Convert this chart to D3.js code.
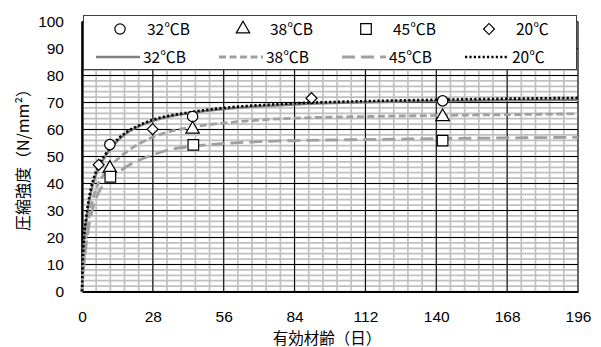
<!DOCTYPE html>
<html>
<head>
<meta charset="utf-8">
<script src="https://cdn.jsdelivr.net/npm/d3@7"></script>
<style>
  html, body { margin: 0; padding: 0; background: #fff; }
  svg { display: block; }
  text { font-family: "Liberation Sans", Arial, "Noto Sans CJK JP", sans-serif; fill: #000; }
  .jp { font-family: "Noto Sans CJK JP", sans-serif; }
</style>
</head>
<body>
<svg id="chart" width="601" height="347"></svg>
<script>
// Tick labels
const xTicks = [0, 28, 56, 84, 112, 140, 168, 196];
const yTicks = [0, 10, 20, 30, 40, 50, 60, 70, 80, 90, 100];

// Measured compressive strength (N/mm²) against effective age (days)
const age32 = [11.0, 43.7, 142.5];
const str32 = [54.4, 64.8, 70.6];
const age38 = [11.0, 43.7, 142.5];
const str38 = [45.6, 60.1, 64.7];
const age45 = [11.2, 44.0, 142.5];
const str45 = [42.5, 54.3, 55.9];
const age20 = [6.6, 27.9, 90.7];
const str20 = [46.9, 60.1, 71.6];

// Strength development curves, sampled at these ages
const curveAge = [0, 0.3, 0.8, 1.6, 2.5, 3.5, 5, 7, 9, 11, 14, 18, 22, 28, 35, 42, 56, 70, 84, 112, 140, 168, 196];
const curve32 = [0, 10, 18.5, 25.5, 31.5, 36.5, 42, 46.5, 49.8, 52.5, 55.8, 58.9, 61, 63.2, 64.9, 66, 67.6, 68.6, 69.3, 70.1, 70.5, 70.8, 71.0];
const curve38 = [0, 5, 12, 20, 26, 31, 36.5, 41, 43.8, 46, 49, 52, 54.4, 57.2, 59.3, 60.7, 62.4, 63.5, 64.2, 64.8, 65.2, 65.5, 65.8];
const curve45 = [0, 4, 10, 17, 23, 28, 33, 37.5, 40, 41.8, 44, 46.5, 48.4, 50.6, 52.6, 53.6, 54.8, 55.5, 55.9, 56.3, 56.6, 56.9, 57.1];
const curve20 = [0, 11, 20, 27, 33, 38, 43, 47.5, 50.5, 53, 56.3, 59.3, 61.3, 63.6, 65.2, 66.3, 68.0, 69.0, 69.7, 70.5, 71.0, 71.4, 71.7];

const seriesLabels = ["32℃B", "38℃B", "45℃B", "20℃"];

const svg = d3.select("#chart");
const x = d3.scaleLinear().domain([0, 196]).range([82, 578]);
const y = d3.scaleLinear().domain([0, 100]).range([291.5, 21.5]);

// Minor grid
const minorX = d3.range(0, 196.01, 5.6);
const minorY = d3.range(0, 100.01, 2);
const grid = svg.append("g");
grid.selectAll(".mx").data(minorX).join("line")
  .attr("x1", d => x(d)).attr("x2", d => x(d))
  .attr("y1", y(0)).attr("y2", y(100))
  .attr("stroke", "#c0c0c0").attr("stroke-width", 1.7);
grid.selectAll(".my").data(minorY).join("line")
  .attr("x1", x(0)).attr("x2", x(196))
  .attr("y1", d => y(d)).attr("y2", d => y(d))
  .attr("stroke", "#c0c0c0").attr("stroke-width", 1.7);

// Major grid
grid.selectAll(".Mx").data(xTicks).join("line")
  .attr("x1", d => x(d)).attr("x2", d => x(d))
  .attr("y1", y(0)).attr("y2", y(100))
  .attr("stroke", "#000").attr("stroke-width", 1);
grid.selectAll(".My").data(yTicks).join("line")
  .attr("x1", x(0)).attr("x2", x(196))
  .attr("y1", d => y(d)).attr("y2", d => y(d))
  .attr("stroke", "#000").attr("stroke-width", 1);

// Axes
const xAxis = svg.append("g").attr("transform", `translate(0,${y(0)})`)
  .call(d3.axisBottom(x).tickValues(xTicks).tickSize(0).tickPadding(19));
const yAxis = svg.append("g").attr("transform", `translate(${x(0)},0)`)
  .call(d3.axisLeft(y).tickValues(yTicks).tickSize(0).tickPadding(18));
[xAxis, yAxis].forEach(a => {
  a.select(".domain").attr("stroke", "#000").attr("stroke-width", 2.2);
  a.selectAll("text").attr("font-size", 15.5)
    .attr("font-family", "'Liberation Sans', Arial, sans-serif");
});

// Curves
const line = d3.line().x(d => x(d[0])).y(d => y(d[1])).curve(d3.curveMonotoneX);
const styles = [
  { data: curve32, stroke: "#7f7f7f", width: 2.5, dash: null },
  { data: curve38, stroke: "#a0a0a0", width: 2.8, dash: "7,3.5" },
  { data: curve45, stroke: "#a0a0a0", width: 2.8, dash: "13,6" },
  { data: curve20, stroke: "#000", width: 2.6, dash: "2.2,2.2" }
];
styles.forEach(s => {
  svg.append("path")
    .attr("d", line(curveAge.map((a, i) => [a, s.data[i]])))
    .attr("fill", "none").attr("stroke", s.stroke)
    .attr("stroke-width", s.width)
    .attr("stroke-dasharray", s.dash);
});

// Markers: circle, triangle, square, and a square turned 45°
const sym = [d3.symbolCircle, d3.symbolTriangle, d3.symbolSquare, d3.symbolSquare];
const symSize = [84, 78, 112, 60];
const symRot = [0, 0, 0, 45];
const pts = [[age32, str32], [age38, str38], [age45, str45], [age20, str20]];
function marker(g, k, cx, cy) {
  g.append("path")
    .attr("d", d3.symbol().type(sym[k]).size(symSize[k])())
    .attr("transform", `translate(${cx},${cy}) rotate(${symRot[k]})`)
    .attr("fill", "#fff").attr("stroke", "#000").attr("stroke-width", 1.2);
}
const mg = svg.append("g");
pts.forEach((p, k) => {
  p[0].forEach((a, i) => marker(mg, k, x(a), y(p[1][i])));
});

// Legend
const lg = svg.append("g");
lg.append("rect").attr("x", 83.5).attr("y", 15.5).attr("width", 493).attr("height", 54)
  .attr("fill", "#fff").attr("stroke", "#404040").attr("stroke-width", 1);
seriesLabels.forEach((lab, k) => {
  const cx = 120 + 123 * k;
  marker(lg, k, cx, 29);
  lg.append("text").attr("class", "jp").attr("x", 147 + 123 * k).attr("y", 35)
    .attr("font-size", 15.5).text(lab);
  const s = styles[k];
  lg.append("line").attr("x1", 96 + 123 * k).attr("x2", 140 + 123 * k)
    .attr("y1", 57).attr("y2", 57)
    .attr("stroke", s.stroke).attr("stroke-width", s.width)
    .attr("stroke-dasharray", s.dash);
  lg.append("text").attr("class", "jp").attr("x", 143 + 123 * k).attr("y", 63)
    .attr("font-size", 15.5).text(lab);
});

// Axis titles
svg.append("text").attr("class", "jp")
  .attr("x", 327).attr("y", 344).attr("text-anchor", "middle")
  .attr("font-size", 15.5).text("有効材齢（日）");
svg.append("text").attr("class", "jp")
  .attr("transform", "translate(29,156) rotate(-90)")
  .attr("text-anchor", "middle").attr("font-size", 16)
  .text("圧縮強度（N/mm²）");
</script>
</body>
</html>
